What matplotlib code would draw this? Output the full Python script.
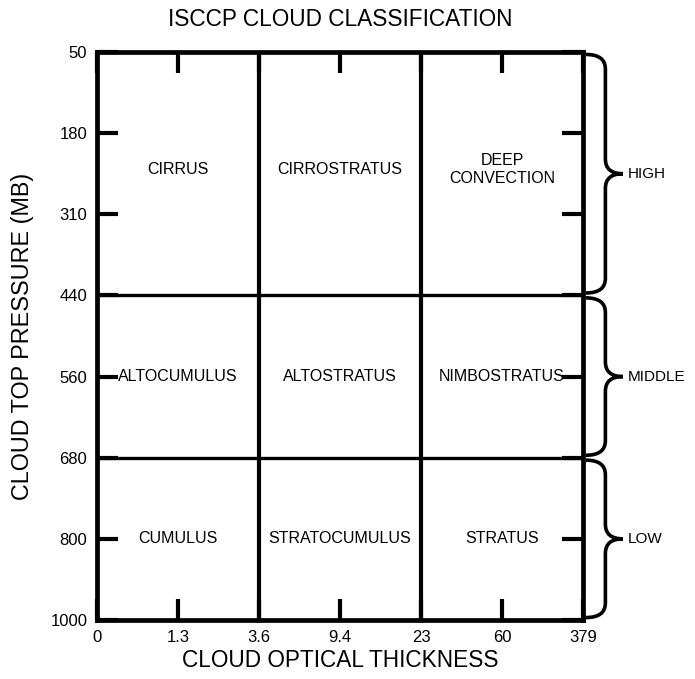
import matplotlib
matplotlib.use("Agg")
import matplotlib.pyplot as plt
from matplotlib.path import Path
from matplotlib.patches import PathPatch
from matplotlib.transforms import blended_transform_factory

plt.rcParams['font.family'] = ['Liberation Sans', 'DejaVu Sans']

# axis categories (equally spaced bins)
tau_labels = ['0', '1.3', '3.6', '9.4', '23', '60', '379']
pc_labels = ['50', '180', '310', '440', '560', '680', '800', '1000']

# bin boundaries between cloud types (index into the tick lists)
tau_bounds = [2, 4]
pc_bounds = [3, 5]

# cloud types, row by row (high, middle, low), column by column
cloud_names = [
    ['CIRRUS', 'CIRROSTRATUS', 'DEEP\nCONVECTION'],
    ['ALTOCUMULUS', 'ALTOSTRATUS', 'NIMBOSTRATUS'],
    ['CUMULUS', 'STRATOCUMULUS', 'STRATUS'],
]
name_cols = [1, 3, 5]
name_rows = [1.45, 4, 6]

levels = ['HIGH', 'MIDDLE', 'LOW']
level_spans = [(0, 3), (3, 5), (5, 7)]

fig = plt.figure(figsize=(6.95, 6.79), dpi=100)
ax = fig.add_axes([0.1396, 0.0869, 0.6993, 0.8365])

ax.set_xlim(0, len(tau_labels) - 1)
ax.set_ylim(len(pc_labels) - 1, 0)
ax.set_xticks(range(len(tau_labels)))
ax.set_xticklabels(tau_labels)
ax.set_yticks(range(len(pc_labels)))
ax.set_yticklabels(pc_labels)
ax.tick_params(direction='in', length=15, width=3, top=True, right=True,
               labelsize=12, pad=7)

for s in ax.spines.values():
    s.set_linewidth(3.4)

for b in tau_bounds:
    ax.axvline(b, color='black', lw=3)
for b in pc_bounds:
    ax.axhline(b, color='black', lw=2.4)

for r, row in enumerate(cloud_names):
    for c, name in enumerate(row):
        ax.text(name_cols[c], name_rows[r], name, ha='center', va='center',
                fontsize=11.5, linespacing=1.3)

ax.set_title('ISCCP CLOUD CLASSIFICATION', fontsize=16.3, pad=19)
ax.set_xlabel('CLOUD OPTICAL THICKNESS', fontsize=16.3, labelpad=3)
ax.set_ylabel('CLOUD TOP PRESSURE (MB)', fontsize=16.8, labelpad=12)

# curly braces on the right
trans = blended_transform_factory(ax.transAxes, ax.transData)


def brace(y0, y1, x0=1.006, x1=1.046, xt=1.082, r=0.18):
    ym = (y0 + y1) / 2
    verts = [(x0, y0), (x1, y0), (x1, y0 + r),
             (x1, ym - r),
             (x1, ym), (xt, ym),
             (x1, ym), (x1, ym + r),
             (x1, y1 - r),
             (x1, y1), (x0, y1)]
    codes = [Path.MOVETO, Path.CURVE3, Path.CURVE3,
             Path.LINETO,
             Path.CURVE3, Path.CURVE3,
             Path.CURVE3, Path.CURVE3,
             Path.LINETO,
             Path.CURVE3, Path.CURVE3]
    p = PathPatch(Path(verts, codes), transform=trans, fill=False,
                  lw=2.6, color='black', clip_on=False)
    ax.add_patch(p)
    return ym


for name, (a, b) in zip(levels, level_spans):
    ym = brace(a + 0.03, b - 0.03)
    ax.text(1.092, ym, name, transform=trans, ha='left', va='center',
            fontsize=11)

fig.savefig('out.png', dpi=100)
